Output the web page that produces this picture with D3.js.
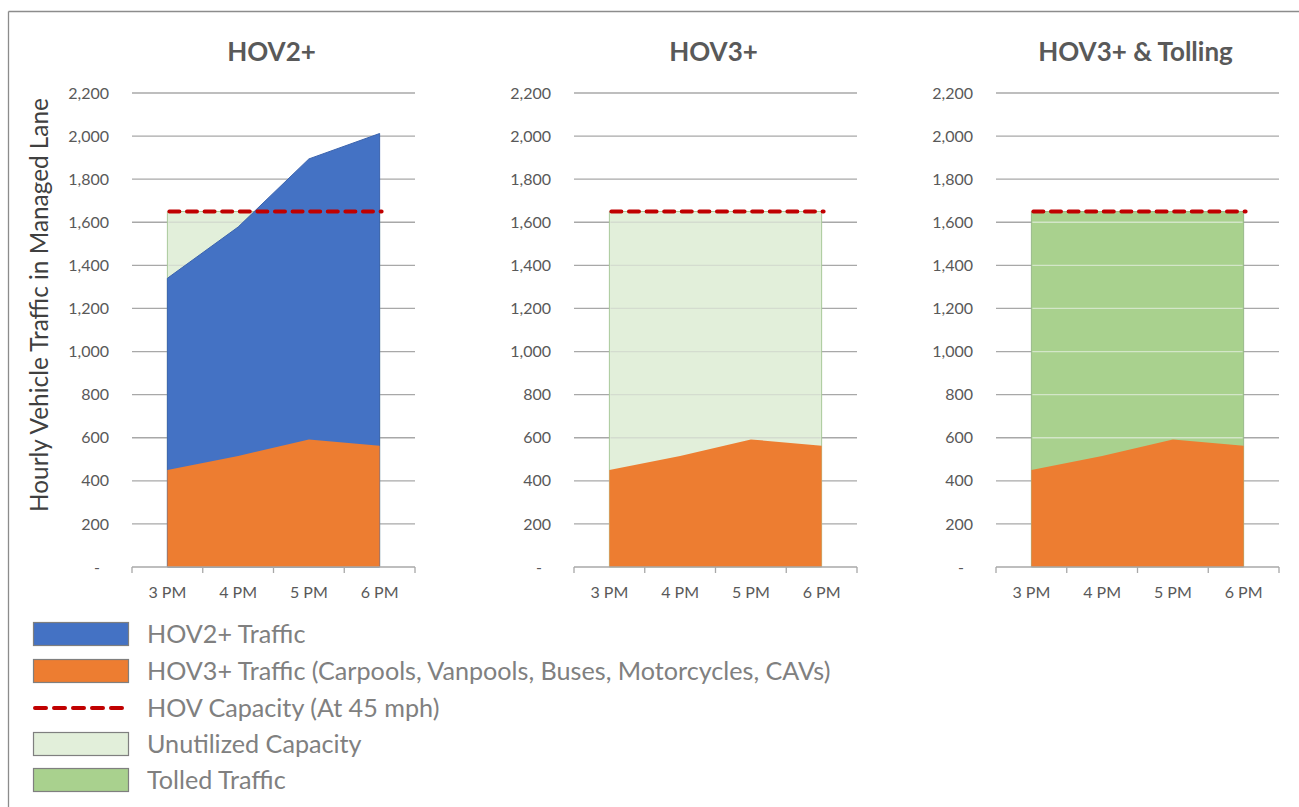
<!DOCTYPE html>
<html><head><meta charset="utf-8">
<script src="https://cdn.jsdelivr.net/npm/d3@7"></script>
<style>body{margin:0;background:#fff}svg{display:block}</style>
</head><body>
<svg id="c" width="1299" height="807"></svg>
<script>
const hours = ["3 PM","4 PM","5 PM","6 PM"];
const hov3Traffic = [450, 515, 592, 563];
const hov2Traffic = [1340, 1578, 1894, 2012];
const capacity = [1650, 1650, 1650, 1650];
const yTicks = [0,200,400,600,800,1000,1200,1400,1600,1800,2000,2200];
const panelTitles = ["HOV2+","HOV3+","HOV3+ & Tolling"];
const panelCapacityFill = ["unutilized","unutilized","tolled"];
const panelShowHov2 = [true,false,false];
const legendLabels = ["HOV2+ Traffic","HOV3+ Traffic (Carpools, Vanpools, Buses, Motorcycles, CAVs)","HOV Capacity (At 45 mph)","Unutilized Capacity","Tolled Traffic"];
const legendKinds = ["hov2","hov3","capacity","unutilized","tolled"];

const colors = {hov2:"#4472C4", hov3:"#ED7D31", unutilized:"#E2EFDA", tolled:"#A9D18E", capacity:"#C00000"};
const strokeCol = {hov2:"#3b63ad", hov3:"#ED7D31", unutilized:"#a9c99a", tolled:"#98b98a"};
const FONT = "Lato, 'Open Sans', sans-serif";

const svg = d3.select("#c");
// outer frame (top and left)
svg.append("line").attr("x1",8.5).attr("x2",1299).attr("y1",11.5).attr("y2",11.5).attr("stroke","#8c8c8c").attr("stroke-width",1.3);
svg.append("line").attr("x1",8.5).attr("x2",8.5).attr("y1",11.5).attr("y2",807).attr("stroke","#8c8c8c").attr("stroke-width",1.3);

const lefts = [132, 574, 996];
const pw = 283;
const y = d3.scaleLinear().domain([0,2200]).range([567,93]);
const gridCol = "#a8a8a8";

lefts.forEach((L,pi)=>{
  const g = svg.append("g");
  const x = d3.scaleBand().domain(hours).range([L, L+pw]).padding(0);
  const cx = h => x(h) + x.bandwidth()/2;

  // gridlines
  g.selectAll(".grid").data(yTicks.filter(d=>d>0)).join("line")
    .attr("x1",L).attr("x2",L+pw).attr("y1",d=>y(d)).attr("y2",d=>y(d))
    .attr("stroke",gridCol).attr("stroke-width",1.3);

  // capacity area (behind)
  const capArea = d3.area().x((d,i)=>cx(hours[i])).y0(y(0)).y1(d=>y(d));
  const ck = panelCapacityFill[pi];
  g.append("path").datum(capacity).attr("d",capArea)
    .attr("fill",colors[ck]).attr("stroke",strokeCol[ck]).attr("stroke-width",1);

  // faint gridlines over capacity area
  const x0 = cx(hours[0]), x1 = cx(hours[hours.length-1]);
  g.selectAll(".gridover").data(yTicks.filter(d=>d>0 && d<capacity[0])).join("line")
    .attr("x1",x0+1).attr("x2",x1-1).attr("y1",d=>y(d)).attr("y2",d=>y(d))
    .attr("stroke", ck==="tolled" ? "#d3e6c8" : "#d4dccf").attr("stroke-width",1.3);

  if (panelShowHov2[pi]) {
    const a2 = d3.area().x((d,i)=>cx(hours[i])).y0(y(0)).y1(d=>y(d));
    g.append("path").datum(hov2Traffic).attr("d",a2)
      .attr("fill",colors.hov2).attr("stroke",strokeCol.hov2).attr("stroke-width",1);
  }
  const a3 = d3.area().x((d,i)=>cx(hours[i])).y0(y(0)).y1(d=>y(d));
  g.append("path").datum(hov3Traffic).attr("d",a3).attr("fill",colors.hov3);

  // capacity dashed line
  const ln = d3.line().x((d,i)=>cx(hours[i])).y(d=>y(d));
  g.append("path").datum(capacity).attr("d",ln)
    .attr("fill","none").attr("stroke",colors.capacity).attr("stroke-width",4)
    .attr("stroke-dasharray","10 7.6").attr("stroke-linecap","round")
    .attr("transform","translate(2,0)");

  // x axis
  const xa = g.append("g").attr("transform",`translate(0,${y(0)})`);
  xa.append("line").attr("x1",L).attr("x2",L+pw).attr("stroke",gridCol).attr("stroke-width",1.3);
  const edges = hours.map(h=>x(h)).concat([L+pw]);
  xa.selectAll(".tk").data(edges).join("line").attr("x1",d=>d).attr("x2",d=>d).attr("y1",0).attr("y2",6)
    .attr("stroke",gridCol).attr("stroke-width",1.3);
  xa.selectAll(".lb").data(hours).join("text").attr("x",d=>cx(d)).attr("y",31)
    .attr("text-anchor","middle").attr("font-family",FONT).attr("font-size",16).attr("fill","#595959").text(d=>d);

  // y labels
  g.selectAll(".yl").data(yTicks).join("text")
    .attr("x",d=> d===0 ? L-32 : L-23).attr("y",d=>y(d)).attr("dy","0.35em")
    .attr("text-anchor","end").attr("font-family",FONT).attr("font-size",16).attr("fill","#595959")
    .text(d=> d===0 ? "-" : d3.format(",")(d));

  // title
  g.append("text").attr("x",L+pw/2-2).attr("y",61).attr("text-anchor","middle")
    .attr("font-family",FONT).attr("font-weight","bold").attr("font-size",26).attr("fill","#595959")
    .text(panelTitles[pi]);
});

// y axis title
const yt = svg.append("text").attr("transform","translate(48,305) rotate(-90)")
  .attr("text-anchor","middle").attr("font-family",FONT).attr("font-size",19).attr("fill","#404040")
  .text("Hourly Vehicle Traffic in Managed Lane");
{ const w = yt.node().getComputedTextLength(); yt.attr("font-size", 19*414/w); }

// legend
const legY = [634, 671, 708, 744, 780];
const lg = svg.append("g");
legendKinds.forEach((k,i)=>{
  if (k==="capacity") {
    lg.append("line").attr("x1",35).attr("x2",127).attr("y1",legY[i]).attr("y2",legY[i])
      .attr("stroke",colors.capacity).attr("stroke-width",4).attr("stroke-dasharray","11 8").attr("stroke-linecap","round");
  } else {
    lg.append("rect").attr("x",33.5).attr("y",legY[i]-11.5).attr("width",95).attr("height",23)
      .attr("fill",colors[k]).attr("stroke","#7f7f7f").attr("stroke-width",1.2);
  }
});
const lt = lg.selectAll(".lt").data(legendLabels).join("text")
  .attr("x",147).attr("y",(d,i)=>legY[i]).attr("dy","0.35em")
  .attr("font-family",FONT).attr("font-size",20).attr("fill","#808080").text(d=>d);
{ const w = lt.nodes()[1].getComputedTextLength(); lt.attr("font-size", 20*684/w); }
</script>
</body></html>
